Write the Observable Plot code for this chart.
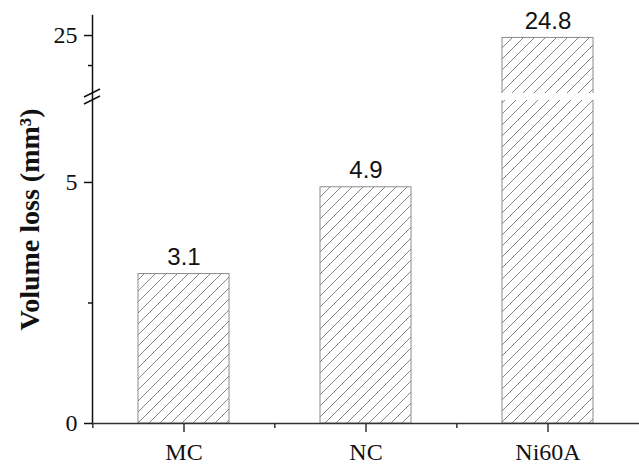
<!DOCTYPE html>
<html>
<head>
<meta charset="utf-8">
<script src="https://cdn.jsdelivr.net/npm/d3@7"></script>
<script src="https://cdn.jsdelivr.net/npm/@observablehq/plot@0.6"></script>
<style>
  body { margin: 0; background: #fff; }
  #chart svg { display: block; }
</style>
</head>
<body>
<div id="chart"></div>
<script>
// Wear test results: volume loss per coating
const categories = ["MC", "NC", "Ni60A"];
const volumeLoss = [3.1, 4.9, 24.8];
const yMajorTicks = [0, 5, 25];
const yMinorTicks = [2.5, 22.5];
const yTitle = "Volume loss (mm³)";

// Broken y axis: lower segment 0..breakLow, upper segment breakHigh..axisTop
const breakLow = 6.7, breakHigh = 20.17, axisTop = 26.67;

const data = categories.map((name, i) => ({name, value: volumeLoss[i]}));

const width = 639, height = 467;
const marginLeft = 92, marginTop = 15, marginBottom = 44, marginRight = 0;
const plotBottom = height - marginBottom;
const lowSegmentTop = 100, highSegmentBottom = 93;
const xStep = (width - marginLeft - marginRight) / categories.length;

const serif = "'Liberation Serif', 'Times New Roman', serif";
const sans = "'Liberation Sans', Arial, sans-serif";
const ink = "#111";

// hatch pattern definition for the bars
function hatchDefs() {
  const defs = d3.create("svg:defs");
  const p = defs.append("pattern")
    .attr("id", "hatch")
    .attr("patternUnits", "userSpaceOnUse")
    .attr("width", 11).attr("height", 11);
  p.append("rect").attr("width", 11).attr("height", 11).attr("fill", "white");
  p.append("path")
    .attr("d", "M-1,1 L1,-1 M0,11 L11,0 M10,12 L12,10")
    .attr("stroke", "#666").attr("stroke-width", 0.8).attr("fill", "none");
  return defs.node();
}

// double slash marking the axis break
function axisBreak(index, scales, values, dims) {
  const g = d3.create("svg:g").attr("stroke", ink).attr("stroke-width", 1.4);
  const x0 = dims.marginLeft;
  for (const v of [breakLow, breakHigh]) {
    const y = scales.y(v);
    g.append("line")
      .attr("x1", x0 - 8).attr("y1", y + 4)
      .attr("x2", x0 + 8).attr("y2", y - 4);
  }
  return g.node();
}

const chart = Plot.plot({
  width, height, marginLeft, marginTop, marginBottom, marginRight,
  style: {fontFamily: serif, background: "white", color: ink, overflow: "visible"},
  x: {domain: categories, paddingInner: 0.5, paddingOuter: 0.25, axis: null, label: null},
  y: {
    type: "linear",
    domain: [0, breakLow, breakHigh, axisTop],
    range: [plotBottom, lowSegmentTop, highSegmentBottom, marginTop],
    axis: null,
    label: null
  },
  marks: [
    hatchDefs,
    Plot.barY(data, {x: "name", y: "value", fill: "url(#hatch)", stroke: "#8c8c8c", strokeWidth: 1}),
    // gap through bars that cross the axis break
    Plot.barY(data.filter(d => d.value > breakHigh), {
      x: "name", y1: breakLow, y2: breakHigh, fill: "white", insetLeft: -2, insetRight: -2
    }),
    Plot.text(data, {
      x: "name", y: "value", text: d => d.value.toFixed(1),
      lineAnchor: "bottom", dy: -9, fontSize: 24, fontFamily: sans, fill: ink
    }),
    // axis lines
    Plot.frame({anchor: "left", stroke: ink, strokeWidth: 1.5}),
    Plot.ruleY([0], {stroke: "#333", strokeWidth: 1.5}),
    axisBreak,
    // y axis ticks and labels
    Plot.axisY(yMajorTicks, {label: null, tickSize: 8, tickPadding: 7, fontSize: 24, stroke: ink, strokeWidth: 1.5, fill: ink, tickFormat: d => String(d)}),
    Plot.axisY(yMinorTicks, {label: null, tickSize: 4, stroke: ink, strokeWidth: 1.5, tickFormat: () => ""}),
    // x axis ticks and labels
    Plot.axisX({label: null, tickSize: 9, tickPadding: 10, fontSize: 24, stroke: "#333", strokeWidth: 1.5, fill: ink}),
    Plot.axisX({label: null, tickSize: 5, stroke: "#333", strokeWidth: 1.5, dx: -xStep / 2, tickFormat: () => ""}),
    // y axis title
    Plot.text([yTitle], {
      frameAnchor: "left", dx: -62, rotate: -90, textAnchor: "middle",
      fontSize: 28, fontWeight: "bold", fill: ink
    })
  ]
});

document.getElementById("chart").append(chart);
</script>
</body>
</html>
